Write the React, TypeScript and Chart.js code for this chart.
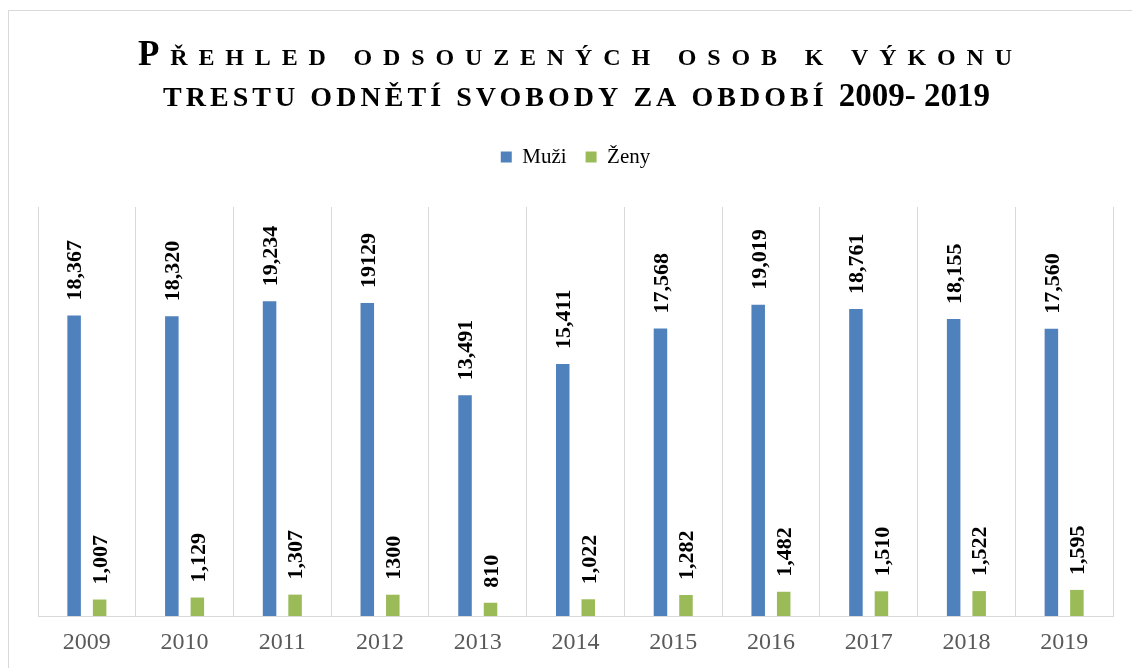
import { useEffect, useRef } from 'react';
import { Chart, registerables } from 'chart.js';

Chart.register(...registerables);

const years = ['2009', '2010', '2011', '2012', '2013', '2014', '2015', '2016', '2017', '2018', '2019'];
const seriesNames = ['Muži', 'Ženy'];
const muzi = [18367, 18320, 19234, 19129, 13491, 15411, 17568, 19019, 18761, 18155, 17560];
const zeny = [1007, 1129, 1307, 1300, 810, 1022, 1282, 1482, 1510, 1522, 1595];
const muziLabels = ['18,367', '18,320', '19,234', '19129', '13,491', '15,411', '17,568', '19,019', '18,761', '18,155', '17,560'];
const zenyLabels = ['1,007', '1,129', '1,307', '1300', '810', '1,022', '1,282', '1,482', '1,510', '1,522', '1,595'];
const titleLine1 = [
  { text: 'P', size: 35, spaced: true },
  { text: 'ŘEHLED ODSOUZENÝCH OSOB K VÝKONU', size: 24, spaced: true },
];
const titleLine2 = [
  { text: 'TRESTU ODNĚTÍ SVOBODY ZA OBDOBÍ ', size: 28, spaced: true },
  { text: '2009- 2019', size: 33, spaced: false },
];

const FONT = "'Liberation Serif', 'Times New Roman', serif";
const BLUE = '#4F81BD';
const GREEN = '#9BBB59';

type Run = { text: string; size: number; spaced: boolean };

function drawLine(ctx: CanvasRenderingContext2D, runs: Run[], x0: number, x1: number, baseline: number) {
  (ctx as any).letterSpacing = '0px';
  let natural = 0;
  let spacedChars = 0;
  const widths: number[] = [];
  runs.forEach((r) => {
    ctx.font = `bold ${r.size}px ${FONT}`;
    const w = ctx.measureText(r.text).width;
    widths.push(w);
    natural += w;
    if (r.spaced) spacedChars += Array.from(r.text).length;
  });
  if (runs[runs.length - 1].spaced) spacedChars -= 1;
  const s = spacedChars > 0 ? (x1 - x0 - natural) / spacedChars : 0;
  let x = x0;
  runs.forEach((r, i) => {
    ctx.font = `bold ${r.size}px ${FONT}`;
    (ctx as any).letterSpacing = r.spaced ? `${s}px` : '0px';
    ctx.fillText(r.text, x, baseline);
    x += widths[i] + (r.spaced ? Array.from(r.text).length * s : 0);
  });
  (ctx as any).letterSpacing = '0px';
}

const titlePlugin = {
  id: 'customTitle',
  afterDraw(chart: any) {
    const ctx = chart.ctx as CanvasRenderingContext2D;
    ctx.save();
    ctx.fillStyle = '#000';
    ctx.textAlign = 'left';
    ctx.textBaseline = 'alphabetic';
    drawLine(ctx, titleLine1, 138, 1012, 65);
    drawLine(ctx, titleLine2, 163, 990, 106);
    ctx.restore();
  },
};

const valueLabelPlugin = {
  id: 'valueLabels',
  afterDatasetsDraw(chart: any) {
    const ctx = chart.ctx as CanvasRenderingContext2D;
    const sets = [muziLabels, zenyLabels];
    chart.data.datasets.forEach((_ds: any, di: number) => {
      const meta = chart.getDatasetMeta(di);
      meta.data.forEach((bar: any, i: number) => {
        const { x, y } = bar.getProps(['x', 'y'], true);
        ctx.save();
        ctx.translate(x + 7.3, y - 15);
        ctx.rotate(-Math.PI / 2);
        ctx.font = `bold 22px ${FONT}`;
        ctx.fillStyle = '#000';
        ctx.textAlign = 'left';
        ctx.textBaseline = 'alphabetic';
        ctx.fillText(sets[di][i], 0, 0);
        ctx.restore();
      });
    });
  },
};

export default function App() {
  const ref = useRef<HTMLCanvasElement | null>(null);

  useEffect(() => {
    if (!ref.current) return;
    const chart = new Chart(ref.current, {
      type: 'bar',
      data: {
        labels: years,
        datasets: [
          {
            label: seriesNames[0],
            data: muzi,
            backgroundColor: BLUE,
            borderWidth: 0,
            categoryPercentage: 0.522,
            barPercentage: 0.53,
          },
          {
            label: seriesNames[1],
            data: zeny,
            backgroundColor: GREEN,
            borderWidth: 0,
            categoryPercentage: 0.522,
            barPercentage: 0.53,
          },
        ],
      },
      options: {
        responsive: false,
        animation: false,
        devicePixelRatio: 1,
        layout: { padding: { top: 127.5, left: 38, right: 19, bottom: 14 } },
        plugins: {
          tooltip: { enabled: false },
          title: { display: false },
          legend: {
            display: true,
            position: 'top',
            labels: {
              boxWidth: 11,
              boxHeight: 11,
              padding: 19,
              color: '#000',
              font: { family: FONT, size: 21 },
            },
          },
        },
        scales: {
          x: {
            position: 'bottom',
            grid: { display: true, offset: true, color: '#d9d9d9', lineWidth: 1, drawTicks: false },
            border: { display: true, color: '#d9d9d9', width: 1 },
            ticks: { color: '#595959', padding: 12, font: { family: FONT, size: 24 } },
            afterFit: (s: any) => {
              s.height = 38;
            },
          },
          x2: {
            type: 'category',
            position: 'top',
            display: true,
            grid: { display: false },
            border: { display: false },
            ticks: { display: false },
            afterFit: (s: any) => {
              s.height = 29.5;
            },
          },
          y: {
            display: false,
            min: 0,
            max: 25000,
          },
        },
      } as any,
      plugins: [titlePlugin, valueLabelPlugin],
    });
    return () => chart.destroy();
  }, []);

  return (
    <div style={{ position: 'fixed', left: 0, top: 0, width: 1132, height: 668, overflow: 'hidden', background: '#fff' }}>
      <div
        style={{
          position: 'absolute',
          left: 8,
          top: 10,
          width: 1160,
          height: 700,
          border: '1px solid #d9d9d9',
          boxSizing: 'border-box',
        }}
      />
      <canvas ref={ref} width={1132} height={668} style={{ position: 'absolute', left: 0, top: 0 }} />
    </div>
  );
}
